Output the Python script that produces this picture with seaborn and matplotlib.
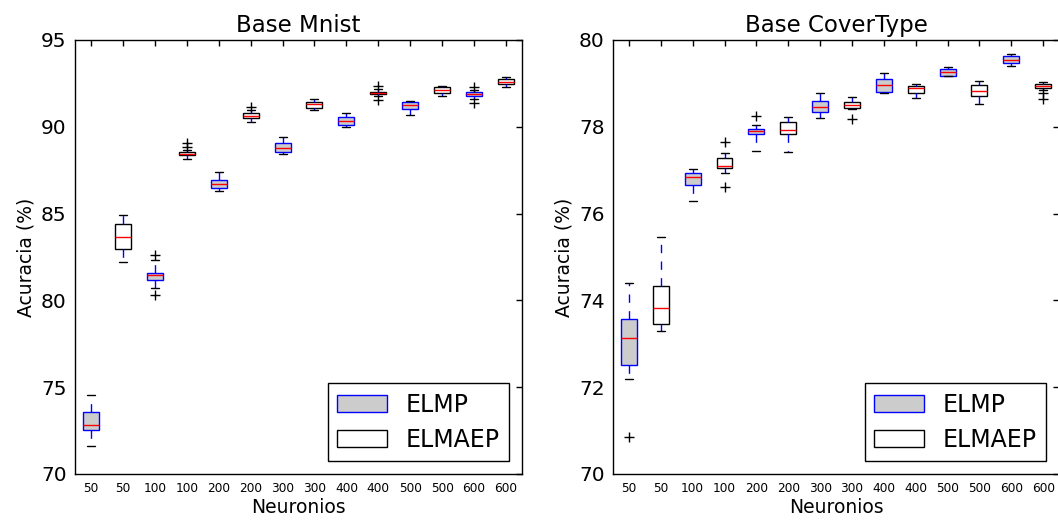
import numpy as np
import pandas as pd
import seaborn as sns
import matplotlib
matplotlib.use("Agg")
import matplotlib.pyplot as plt
from matplotlib.patches import Patch

# ---------------- data ----------------
neurons = ["50", "50", "100", "100", "200", "200", "300", "300",
           "400", "400", "500", "500", "600", "600"]
methods = ["ELMP", "ELMAEP"] * 7

# Base Mnist box statistics (whisker low, Q1, median, Q3, whisker high)
mnist_wlo = [71.63, 82.21, 80.70, 88.15, 86.32, 90.26, 88.45, 90.97, 89.97, 91.75, 90.66, 91.77, 91.60, 92.31]
mnist_q1  = [72.53, 82.96, 81.18, 88.35, 86.49, 90.53, 88.53, 91.10, 90.10, 91.88, 91.01, 91.96, 91.80, 92.47]
mnist_med = [72.82, 83.67, 81.46, 88.45, 86.71, 90.64, 88.80, 91.29, 90.35, 91.95, 91.26, 92.12, 91.88, 92.60]
mnist_q3  = [73.59, 84.38, 81.56, 88.52, 86.94, 90.78, 89.05, 91.45, 90.58, 92.02, 91.45, 92.27, 92.00, 92.75]
mnist_whi = [74.55, 84.92, 82.35, 88.65, 87.41, 90.95, 89.43, 91.58, 90.81, 92.15, 91.50, 92.35, 92.12, 92.87]
mnist_flier_box = [2, 2, 3, 3, 5, 9, 9, 12, 12]
mnist_flier_val = [82.60, 80.30, 88.85, 89.05, 91.15, 92.35, 91.55, 92.30, 91.35]

# Base CoverType box statistics
cover_wlo = [72.18, 73.29, 76.30, 76.93, 77.44, 77.43, 78.21, 78.40, 78.79, 78.66, 79.16, 78.52, 79.41, 78.85]
cover_q1  = [72.50, 73.45, 76.66, 77.04, 77.84, 77.83, 78.35, 78.43, 78.81, 78.79, 79.18, 78.71, 79.46, 78.89]
cover_med = [73.13, 73.82, 76.85, 77.10, 77.90, 77.93, 78.46, 78.50, 78.96, 78.89, 79.26, 78.82, 79.54, 78.94]
cover_q3  = [73.56, 74.33, 76.94, 77.27, 77.95, 78.10, 78.60, 78.56, 79.09, 78.95, 79.32, 78.96, 79.62, 78.99]
cover_whi = [74.41, 75.45, 77.02, 77.39, 78.05, 78.22, 78.79, 78.68, 79.23, 78.98, 79.37, 79.06, 79.68, 79.04]
cover_flier_box = [0, 3, 3, 4, 7, 13, 13]
cover_flier_val = [70.85, 77.66, 76.62, 78.25, 78.18, 78.77, 78.65]

titles = ["Base Mnist", "Base CoverType"]
ylims = [(70, 95), (70, 80)]
yticks = [[70, 75, 80, 85, 90, 95], [70, 72, 74, 76, 78, 80]]

# ---------------- style ----------------
sns.set_style("white")
plt.rcParams.update({
    "font.family": ["DejaVu Sans"],
    "xtick.direction": "in",
    "ytick.direction": "in",
    "xtick.top": True,
    "ytick.right": True,
    "axes.edgecolor": "black",
    "axes.linewidth": 1.0,
    "xtick.color": "black",
    "ytick.color": "black",
    "text.color": "black",
    "axes.labelcolor": "black",
})

fill_colors = {"ELMP": "#cccccc", "ELMAEP": "white"}
edge_colors = {"ELMP": "blue", "ELMAEP": "black"}

slots = [f"{m}_{n}_{i}" for i, (m, n) in enumerate(zip(methods, neurons))]


def make_frame(wlo, q1, med, q3, whi):
    rows = []
    for i in range(len(slots)):
        for v in (wlo[i], q1[i], med[i], q3[i], whi[i]):
            rows.append({"slot": slots[i], "method": methods[i], "value": v})
    return pd.DataFrame(rows)


frames = [make_frame(mnist_wlo, mnist_q1, mnist_med, mnist_q3, mnist_whi),
          make_frame(cover_wlo, cover_q1, cover_med, cover_q3, cover_whi)]
fliers = [pd.DataFrame({"slot": [slots[i] for i in mnist_flier_box], "value": mnist_flier_val}),
          pd.DataFrame({"slot": [slots[i] for i in cover_flier_box], "value": cover_flier_val})]

fig = plt.figure(figsize=(10.58, 5.2), dpi=100)
axes = [fig.add_axes([0.0709, 0.0885, 0.4225, 0.8346]),
        fig.add_axes([0.5794, 0.0885, 0.4216, 0.8346])]

for k, ax in enumerate(axes):
    df = frames[k]
    for m in ["ELMP", "ELMAEP"]:
        sns.boxplot(data=df[df["method"] == m], x="slot", y="value", order=slots,
                    whis=(0, 100), width=0.5, color=fill_colors[m], saturation=1,
                    linecolor=edge_colors[m], linewidth=1.0, showfliers=False,
                    whiskerprops=dict(color="blue", linestyle=(0, (6, 6))),
                    capprops=dict(color="black"),
                    medianprops=dict(color="red"),
                    boxprops=dict(edgecolor=edge_colors[m]),
                    ax=ax)
    sns.stripplot(data=fliers[k], x="slot", y="value", order=slots, jitter=False,
                  marker="+", color="black", edgecolor="black", linewidth=1,
                  size=6.5, ax=ax)
    ax.set_xlim(-0.5, len(slots) - 0.5)
    ax.set_ylim(*ylims[k])
    ax.set_yticks(yticks[k])
    ax.set_xticks(range(len(slots)))
    ax.set_xticklabels(neurons)
    ax.tick_params(axis="x", labelsize=8.7, length=4, width=1, pad=6)
    ax.tick_params(axis="y", labelsize=14.5, length=4, width=1, pad=6)
    ax.set_xlabel("Neuronios", fontsize=13.5, labelpad=2)
    ax.set_ylabel("Acuracia (%)", fontsize=13.5)
    ax.set_title(titles[k], fontsize=16.5, pad=6)
    for s in ax.spines.values():
        s.set_visible(True)
        s.set_color("black")
    handles = [Patch(facecolor=fill_colors["ELMP"], edgecolor="blue", lw=1, label="ELMP"),
               Patch(facecolor="white", edgecolor="black", lw=1, label="ELMAEP")]
    leg = ax.legend(handles=handles, loc="lower right", fontsize=17, frameon=True,
                    fancybox=False, edgecolor="black", framealpha=1,
                    handlelength=2.1, handleheight=0.75, handletextpad=0.8,
                    borderaxespad=0.55, borderpad=0.4, labelspacing=0.45)
    leg.get_frame().set_linewidth(1.0)

fig.savefig("out.png", dpi=100)
